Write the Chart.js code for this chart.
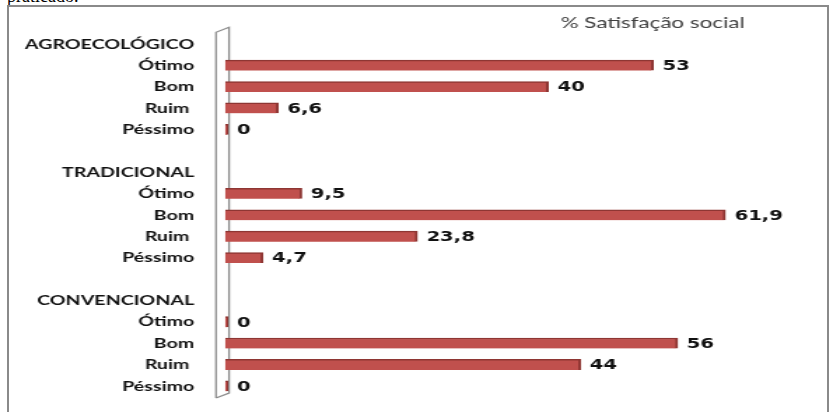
<!DOCTYPE html>
<html lang="pt">
<head>
  <meta charset="UTF-8">
  <title>% Satisfação social</title>
  <script src="https://cdn.jsdelivr.net/npm/chart.js"></script>
  <style>
    html, body { margin: 0; padding: 0; background: #fff; overflow: hidden; }
    body { width: 831px; height: 412px; position: relative; }
    .prev-text { position: absolute; left: 7px; top: -13px; font-family: "Liberation Serif", serif; font-size: 18px; line-height: 18px; color: #000; }
    .frame { position: absolute; left: 7px; top: 5px; width: 822px; height: 440px; border: 2px solid #8a8a8a; box-sizing: border-box; }
    /* the source picture is stretched sideways, so the chart is too */
    .stretch { position: absolute; left: 0; top: 0; width: 594px; height: 412px; transform: scaleX(1.4); transform-origin: 0 0; }
  </style>
</head>
<body>
  <div class="prev-text">praticado.</div>
  <div class="frame"></div>
  <div class="stretch">
    <canvas id="chart" width="594" height="412"></canvas>
  </div>
  <script>
    // Categories, top to bottom (headers and blank rows have no bar)
    const categories = [
      'AGROECOLÓGICO', 'Ótimo', 'Bom', 'Ruim ', 'Péssimo', '',
      'TRADICIONAL', 'Ótimo', 'Bom', 'Ruim ', 'Péssimo', '',
      'CONVENCIONAL', 'Ótimo', 'Bom', 'Ruim ', 'Péssimo'
    ];
    // % Satisfação social per system: Ótimo, Bom, Ruim, Péssimo
    const agroecologico = [53, 40, 6.6, 0];
    const tradicional = [9.5, 61.9, 23.8, 4.7];
    const convencional = [0, 56, 44, 0];

    const values = [null, ...agroecologico, null,
                    null, ...tradicional, null,
                    null, ...convencional];

    const font = 'Lato, "Open Sans", sans-serif';

    // thin 3D wall behind the start of the bars
    const wallPlugin = {
      id: 'wall',
      beforeDatasetsDraw(chart) {
        const { ctx, chartArea: a } = chart;
        const xl = a.left - 6.4, xr = a.left + 2.9;
        ctx.save();
        ctx.strokeStyle = '#8c8c8c';
        ctx.lineWidth = 1.3;
        ctx.beginPath();
        ctx.moveTo(xl, a.bottom + 1.3);
        ctx.lineTo(xl, a.top - 1);
        ctx.lineTo(xr, a.top - 6);
        ctx.lineTo(xr, a.bottom - 3.5);
        ctx.lineTo(xl, a.bottom + 1.3);
        ctx.stroke();
        ctx.restore();
      }
    };

    // value labels at the end of each bar, with decimal comma
    const valueLabels = {
      id: 'valueLabels',
      afterDatasetsDraw(chart) {
        const { ctx } = chart;
        const meta = chart.getDatasetMeta(0);
        ctx.save();
        ctx.font = 'bold 14px "DejaVu Sans", sans-serif';
        ctx.fillStyle = '#111';
        ctx.textAlign = 'left';
        ctx.textBaseline = 'middle';
        meta.data.forEach((bar, i) => {
          const v = values[i];
          if (v === null) return;
          ctx.fillText(String(v).replace('.', ','), bar.x + 6.5, bar.y + 1);
        });
        ctx.restore();
      }
    };

    new Chart(document.getElementById('chart'), {
      type: 'bar',
      data: {
        labels: categories,
        datasets: [{
          data: values,
          backgroundColor: '#C0504D',
          borderColor: '#8E3633',
          borderWidth: { top: 1.5, right: 2, bottom: 0, left: 0 },
          borderSkipped: false,
          barThickness: 10.5,
          minBarLength: 2
        }]
      },
      options: {
        indexAxis: 'y',
        responsive: false,
        animation: false,
        layout: { padding: { top: 0, right: 62, bottom: 15.3, left: 0 } },
        plugins: {
          legend: { display: false },
          tooltip: { enabled: false },
          title: {
            display: true,
            text: '% Satisfação social',
            align: 'end',
            color: '#404040',
            font: { family: font, size: 16, weight: 'normal', lineHeight: 1.2 },
            padding: { top: 13.5, bottom: 0.6 }
          }
        },
        scales: {
          x: { display: false, min: 0, max: 64.3 },
          y: {
            offset: true,
            grid: { display: false, drawTicks: false },
            border: { display: false },
            afterFit(scale) {
              scale.width = 160.7;
              scale.paddingTop = 0;
              scale.paddingBottom = 0;
            },
            ticks: {
              autoSkip: false,
              padding: 22,
              color: '#111',
              font: { family: font, size: 14, weight: 'bold' }
            }
          }
        }
      },
      plugins: [wallPlugin, valueLabels]
    });
  </script>
</body>
</html>
